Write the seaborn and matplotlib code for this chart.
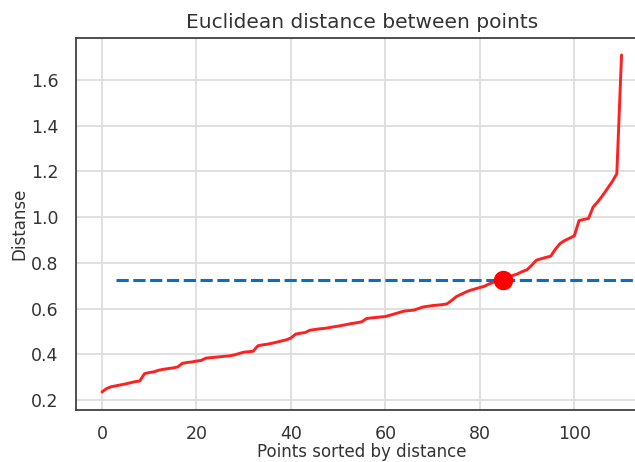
import numpy as np
import pandas as pd
import matplotlib
matplotlib.use("Agg")
import matplotlib.pyplot as plt
import seaborn as sns

# Sorted k-nearest-neighbour distances
distances = [
    0.235, 0.250, 0.258, 0.262, 0.266, 0.270, 0.275, 0.280, 0.283, 0.315,
    0.320, 0.323, 0.330, 0.334, 0.337, 0.340, 0.344, 0.360, 0.364, 0.366,
    0.370, 0.373, 0.383, 0.385, 0.387, 0.389, 0.391, 0.393, 0.397, 0.403,
    0.409, 0.411, 0.413, 0.437, 0.441, 0.444, 0.448, 0.453, 0.458, 0.463,
    0.471, 0.488, 0.492, 0.495, 0.505, 0.508, 0.511, 0.513, 0.516, 0.520,
    0.523, 0.527, 0.531, 0.535, 0.538, 0.542, 0.556, 0.559, 0.561, 0.563,
    0.565, 0.571, 0.577, 0.583, 0.589, 0.591, 0.593, 0.600, 0.607, 0.610,
    0.613, 0.615, 0.617, 0.620, 0.635, 0.652, 0.662, 0.672, 0.680, 0.686,
    0.692, 0.698, 0.708, 0.716, 0.720, 0.723, 0.735, 0.745, 0.752, 0.762,
    0.770, 0.790, 0.812, 0.818, 0.824, 0.829, 0.860, 0.885, 0.898, 0.908,
    0.918, 0.985, 0.990, 0.994, 1.045, 1.068, 1.095, 1.125, 1.155, 1.190,
    1.710,
]
knee_index = 85
eps_start = 3
eps_end = 120

df = pd.DataFrame({"point": np.arange(len(distances)), "distance": distances})
knee_value = distances[knee_index]

sns.set_theme(style="whitegrid")
plt.rcParams.update({
    "axes.edgecolor": "#404040",
    "axes.linewidth": 1.3,
    "grid.color": "#dddddd",
    "grid.linewidth": 1.3,
    "text.color": "#333333",
    "axes.labelcolor": "#333333",
    "xtick.color": "#333333",
    "ytick.color": "#333333",
})
plt.rcParams["font.family"] = ["DejaVu Sans"]

fig = plt.figure(figsize=(6.35, 4.62), dpi=100)
ax = fig.add_axes([0.1197, 0.1126, 0.9, 0.805])

sns.lineplot(data=df, x="point", y="distance", color="#ff2020", linewidth=2.1, ax=ax)
ax.hlines(knee_value, eps_start, eps_end, colors="#0a6fc2", linestyles=(0, (4, 1.5)),
          linewidth=2.2)
ax.plot([knee_index], [knee_value], "o", color="#ff0000", markersize=13)

ax.set_xlim(-5.5, 115.5)
ax.set_ylim(0.156, 1.784)
ax.set_xticks([0, 20, 40, 60, 80, 100])
ax.set_yticks([0.2, 0.4, 0.6, 0.8, 1.0, 1.2, 1.4, 1.6])
ax.tick_params(axis="y", labelsize=12.5, pad=6.5)
ax.tick_params(axis="x", labelsize=12.5, pad=5)
ax.set_title("Euclidean distance between points", fontsize=14.5, pad=7)
ax.set_xlabel("Points sorted by distance", fontsize=12, labelpad=0)
ax.set_ylabel("Distanse", fontsize=12, labelpad=2)

fig.savefig("out.png", dpi=100)
